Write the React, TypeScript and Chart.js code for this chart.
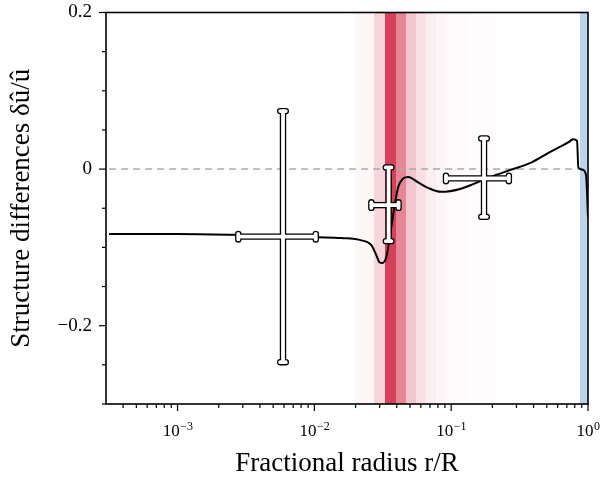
import { useEffect, useRef } from "react";
import { Chart, registerables } from "chart.js";

Chart.register(...registerables);

const FONT = "'Liberation Serif', 'DejaVu Serif', serif";

const X_MIN = Math.pow(10, -3.5);
const X_MAX = 1;
const Y_MIN = -0.3;
const Y_MAX = 0.2;

const X_TITLE = "Fractional radius r/R";
const Y_TITLE = "Structure differences δû/û";

// black curve
const radius = [0.000316, 0.001, 0.0025, 0.0106, 0.0158, 0.0221, 0.0261, 0.0284, 0.0299, 0.0314, 0.0336, 0.0353, 0.0384, 0.041, 0.0446, 0.0485, 0.0573, 0.0678, 0.0843, 0.118, 0.194, 0.272, 0.38, 0.53, 0.716, 0.778, 0.832, 0.85, 0.92, 0.968, 1.0];
const structDiff = [-0.083, -0.083, -0.084, -0.087, -0.088, -0.091, -0.097, -0.11, -0.119, -0.12, -0.112, -0.091, -0.049, -0.023, -0.012, -0.01, -0.017, -0.024, -0.029, -0.025, -0.01, -0.001, 0.008, 0.022, 0.034, 0.038, 0.036, 0.002, -0.001, -0.008, -0.061];

// error crosses
const errRadius = [0.0059, 0.0349, 0.1738];
const errRadiusLo = [0.00278, 0.0261, 0.0916];
const errRadiusHi = [0.01024, 0.04125, 0.264];
const errDiff = [-0.0863, -0.046, -0.0119];
const errDiffLo = [-0.2466, -0.092, -0.061];
const errDiffHi = [0.0741, 0.0022, 0.0392];

// red shaded bands (bin edges and relative density)
const bandEdges = [0.0172, 0.0197, 0.0275, 0.033, 0.0397, 0.0469, 0.0555, 0.0656, 0.0775, 0.0916, 0.128, 0.211];
const bandDensity = [0.01, 0.045, 0.22, 1.0, 0.64, 0.3, 0.16, 0.09, 0.05, 0.03, 0.014];
// blue band
const blueBand = [0.88, 1.0];

// ticks
const xMajorTicks = [0.001, 0.01, 0.1, 1];
const xMajorExponents = ["−3", "−2", "−1", "0"];
const yMajorTicks = [-0.2, 0, 0.2];
const yMinorStep = 0.05;

const decorPlugin = {
  id: "decor",
  beforeDatasetsDraw(chart: any) {
    const { ctx, chartArea: a, scales } = chart;
    const x = scales.x;
    ctx.save();
    ctx.beginPath();
    ctx.rect(a.left, a.top, a.right - a.left, a.bottom - a.top);
    ctx.clip();
    for (let i = 0; i < bandDensity.length; i++) {
      const x0 = Math.round(x.getPixelForValue(bandEdges[i]));
      const x1 = Math.round(x.getPixelForValue(bandEdges[i + 1]));
      ctx.fillStyle = `rgba(214,64,90,${bandDensity[i]})`;
      ctx.fillRect(x0, a.top, x1 - x0, a.bottom - a.top);
    }
    const b0 = Math.round(x.getPixelForValue(blueBand[0]));
    const b1 = Math.round(x.getPixelForValue(blueBand[1]));
    ctx.fillStyle = "#bcd3eb";
    ctx.fillRect(b0, a.top, b1 - b0, a.bottom - a.top);
    ctx.restore();
  },
  afterDatasetsDraw(chart: any) {
    const { ctx, scales } = chart;
    const x = scales.x;
    const y = scales.y;
    const pts = errRadius.map((r, i) => ({
      cx: x.getPixelForValue(r),
      cy: y.getPixelForValue(errDiff[i]),
      xl: x.getPixelForValue(errRadiusLo[i]),
      xh: x.getPixelForValue(errRadiusHi[i]),
      yl: y.getPixelForValue(errDiffLo[i]),
      yh: y.getPixelForValue(errDiffHi[i]),
    }));
    const seg = (x0: number, y0: number, x1: number, y1: number) => {
      ctx.beginPath();
      ctx.moveTo(x0, y0);
      ctx.lineTo(x1, y1);
      ctx.stroke();
    };
    const pass = (color: string, barW: number, capW: number) => {
      ctx.strokeStyle = color;
      for (const p of pts) {
        ctx.lineCap = "butt";
        ctx.lineWidth = barW;
        seg(p.xl, p.cy, p.xh, p.cy);
        seg(p.cx, p.yh, p.cx, p.yl);
        ctx.lineCap = "round";
        ctx.lineWidth = capW;
        const h = 2.8;
        seg(p.xl, p.cy - h, p.xl, p.cy + h);
        seg(p.xh, p.cy - h, p.xh, p.cy + h);
        seg(p.cx - h, p.yh, p.cx + h, p.yh);
        seg(p.cx - h, p.yl, p.cx + h, p.yl);
      }
    };
    ctx.save();
    pass("#000", 6.4, 6.4);
    pass("#fff", 3.8, 3.8);
    ctx.restore();
  },
  afterDraw(chart: any) {
    const { ctx, chartArea: a, scales } = chart;
    const x = scales.x;
    const y = scales.y;
    ctx.save();
    ctx.strokeStyle = "#000";
    ctx.lineWidth = 1.2;
    // x ticks
    for (let d = -4; d <= 0; d++) {
      for (let m = 1; m <= 9; m++) {
        const v = m * Math.pow(10, d);
        if (v < X_MIN * 0.999 || v > X_MAX * 1.001) continue;
        const px = x.getPixelForValue(v);
        const len = m === 1 ? 7 : 4;
        ctx.beginPath();
        ctx.moveTo(px, a.bottom);
        ctx.lineTo(px, a.bottom + len);
        ctx.stroke();
      }
    }
    // y ticks
    for (let v = Y_MIN; v <= Y_MAX + 1e-9; v += yMinorStep) {
      const vv = Math.round(v * 100) / 100;
      const py = y.getPixelForValue(vv);
      const major = yMajorTicks.some((t) => Math.abs(t - vv) < 1e-9);
      ctx.beginPath();
      ctx.moveTo(a.left, py);
      ctx.lineTo(a.left - (major ? 7 : 4), py);
      ctx.stroke();
    }
    // frame
    ctx.lineWidth = 1.6;
    ctx.strokeRect(a.left, a.top, a.right - a.left, a.bottom - a.top);
    // x tick labels with superscripts
    ctx.fillStyle = "#000";
    ctx.textBaseline = "alphabetic";
    ctx.textAlign = "left";
    xMajorTicks.forEach((v, i) => {
      const px = x.getPixelForValue(v);
      ctx.font = `17px ${FONT}`;
      const wb = ctx.measureText("10").width;
      ctx.font = `12px ${FONT}`;
      const we = ctx.measureText(xMajorExponents[i]).width;
      const start = px - (wb + we) / 2;
      ctx.font = `17px ${FONT}`;
      ctx.fillText("10", start, 436);
      ctx.font = `12px ${FONT}`;
      ctx.fillText(xMajorExponents[i], start + wb + 0.5, 430);
    });
    ctx.restore();
  },
};

export default function App() {
  const ref = useRef<HTMLCanvasElement | null>(null);
  useEffect(() => {
    if (!ref.current) return;
    const chart = new Chart(ref.current, {
      type: "line",
      data: {
        datasets: [
          {
            label: "structure difference",
            data: radius.map((r, i) => ({ x: r, y: structDiff[i] })),
            borderColor: "#000",
            borderWidth: 2,
            pointRadius: 0,
            cubicInterpolationMode: "monotone",
            fill: false,
          },
          {
            label: "errors",
            type: "scatter",
            data: errRadius.map((r, i) => ({ x: r, y: errDiff[i] })),
            pointRadius: 0,
            showLine: false,
          } as any,
          {
            label: "zero",
            data: [
              { x: X_MIN, y: 0 },
              { x: X_MAX, y: 0 },
            ],
            borderColor: "#ababab",
            borderWidth: 1.5,
            borderDash: [7, 5],
            pointRadius: 0,
            fill: false,
          },
        ],
      },
      options: {
        animation: false,
        responsive: false,
        devicePixelRatio: 1,
        layout: { padding: { top: 12.5, right: 17, left: 0, bottom: 0 } },
        plugins: { legend: { display: false }, tooltip: { enabled: false } },
        scales: {
          x: {
            type: "logarithmic",
            min: X_MIN,
            max: X_MAX,
            grid: { display: false, drawTicks: false },
            border: { display: false },
            ticks: { display: false },
            title: {
              display: true,
              text: X_TITLE,
              color: "#000",
              font: { family: FONT, size: 27 },
              padding: { top: 0, bottom: 0 },
            },
            afterFit: (s: any) => {
              s.height = 76;
              s.paddingLeft = 0;
              s.paddingRight = 0;
            },
          },
          y: {
            type: "linear",
            min: Y_MIN,
            max: Y_MAX,
            afterBuildTicks: (s: any) => {
              s.ticks = yMajorTicks.map((v) => ({ value: v }));
            },
            ticks: {
              color: "#000",
              font: { family: FONT, size: 19 },
              padding: 14,
              callback: (v: any) => {
                const n = Number(v);
                if (Math.abs(n) < 1e-9) return "0";
                return n < 0 ? "−" + Math.abs(n).toFixed(1) : n.toFixed(1);
              },
            },
            grid: { display: false, drawTicks: false },
            border: { display: false },
            title: {
              display: true,
              text: Y_TITLE,
              color: "#000",
              font: { family: FONT, size: 27 },
              padding: { top: 6, bottom: 0 },
            },
            afterFit: (s: any) => {
              s.width = 106;
              s.paddingTop = 0;
              s.paddingBottom = 0;
            },
          },
        },
      },
      plugins: [decorPlugin],
    });
    return () => chart.destroy();
  }, []);
  return (
    <div style={{ position: "fixed", left: 0, top: 0, width: 605, height: 480, background: "#fff" }}>
      <canvas ref={ref} width={605} height={480} style={{ display: "block" }} />
    </div>
  );
}
